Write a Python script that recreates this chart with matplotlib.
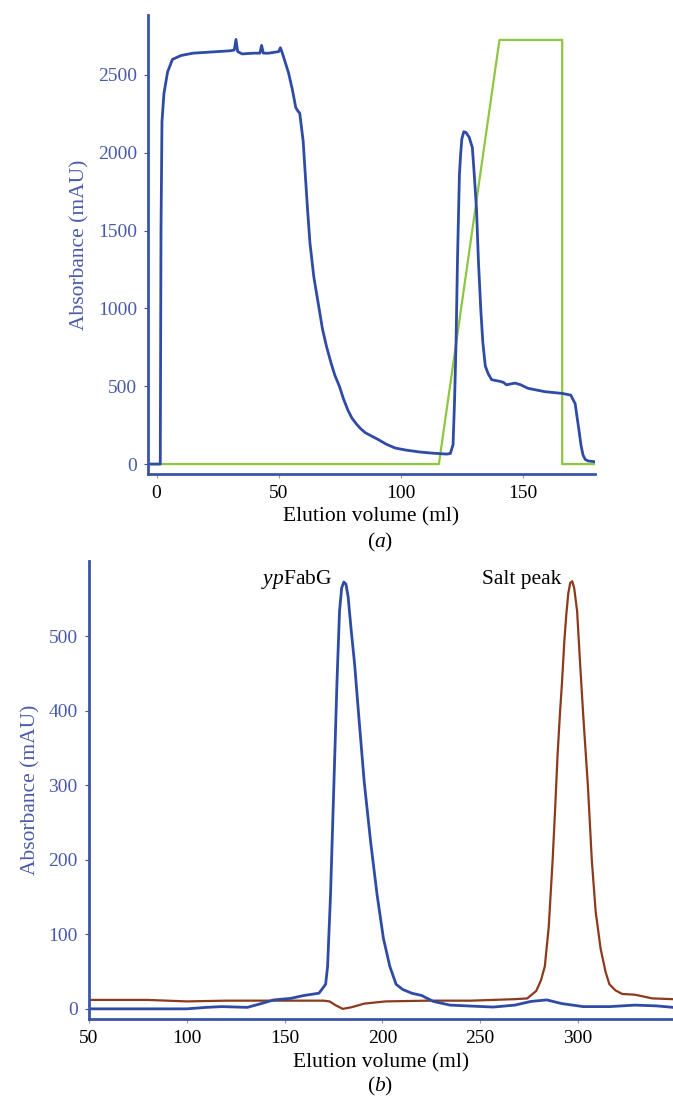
import matplotlib
matplotlib.use('Agg')
import matplotlib.pyplot as plt

plt.rcParams['font.family'] = ['Liberation Serif', 'DejaVu Serif']
plt.rcParams['mathtext.fontset'] = 'custom'
plt.rcParams['mathtext.rm'] = 'Liberation Serif'
plt.rcParams['mathtext.it'] = 'Liberation Serif:italic'

# Panel (a): affinity run, absorbance + gradient
a_vol = [-3.5, 1.5, 1.8, 2.2, 3, 4.5, 6.5, 10, 15, 20, 25, 30, 31.8, 32.5, 33.2, 35, 40, 42.3, 43, 43.7,
         46, 50, 50.7, 51.5, 54, 55.6, 57, 58, 58.6, 60, 61.8, 62.8, 64.4, 66, 67.9, 69.5, 71.4, 73, 74.9, 76.5,
         78.4, 80, 81.9, 83.5, 85.4, 88, 90.7, 94, 97.7, 102, 108, 113, 118.8, 120.3, 121.4, 122, 122.6, 123.2, 124, 124.5,
         125, 125.8, 126.7, 128, 129.3, 130, 131, 131.8, 132.8, 133.6, 134.6, 135.8, 137.2, 140.7, 142, 143.3, 145, 146.8, 149, 152,
         159, 166, 169.6, 171.4, 172.2, 173, 173.8, 174.6, 175.5, 176.7, 179.5]
a_abs = [0, 0, 1500, 2200, 2380, 2520, 2600, 2625, 2640, 2645, 2650, 2655, 2660, 2728, 2650, 2635, 2640, 2640, 2690, 2640,
         2640, 2650, 2675, 2640, 2515, 2405, 2290, 2265, 2256, 2077, 1638, 1420, 1200, 1050, 870, 760, 651, 570, 498, 420,
         344, 295, 256, 228, 202, 180, 158, 128, 103, 90, 77, 70, 64, 68, 125, 400, 760, 1300, 1857, 1990,
         2090, 2135, 2130, 2100, 2033, 1880, 1638, 1300, 980, 780, 630, 580, 542, 531, 525, 509, 515, 520, 510, 487,
         465, 454, 443, 388, 300, 213, 120, 59, 30, 20, 15]
grad_vol = [-3.5, 115.6, 140.4, 166.1, 166.1, 179.5]
grad_val = [0, 0, 2725, 2725, 0, 0]

# Panel (b): size exclusion run
b_vol = [50, 100, 110, 118, 131, 138, 144.5, 153, 160, 167.6, 171, 172, 173.5, 174.6, 175.7, 176.8, 178.1, 179.2, 180.3, 181.4,
         182.5, 184, 185.8, 188, 190.7, 194, 197.3, 200.5, 203.8, 207, 210.4, 215, 220, 226, 234.6, 256.6, 267.6, 276, 284, 291.8,
         302.7, 316, 329, 340, 348.5]
b_abs = [0, 0, 2, 3, 2, 7, 12, 14, 18, 21, 33, 57, 153, 248, 343, 439, 534, 565, 573, 570,
         553, 510, 463, 391, 305, 224, 153, 95, 57, 33, 26, 21, 18, 10, 5, 2.4, 5, 10, 12, 7,
         3, 3, 5, 4, 2]
salt_vol = [50, 60, 80, 100, 120, 140, 160, 170, 173, 176, 179.7, 184, 190.7, 201.6, 223.6, 245, 267.6, 274, 278.6, 281,
            283, 285, 287, 288.3, 289.5, 290.7, 291.8, 293, 294, 295, 296, 297, 298, 299.5, 301, 302.7, 305, 307, 309, 311.5,
            314, 316, 319, 322.5, 329, 338, 348.5]
salt_abs = [12, 12, 12, 10, 11, 11, 11, 11, 10, 5, 0, 2, 7, 10, 11, 11, 13, 14, 24, 38,
            57, 110, 200, 270, 340, 395, 439, 495, 530, 558, 572, 574, 565, 534, 465, 391, 300, 200, 130, 81,
            50, 33, 25, 20, 19, 14, 13]

BLUE = '#2f4ba5'
AXBLUE = '#3a55a8'
TXTBLUE = '#4a5aa8'
GREEN = '#8dc63f'
BROWN = '#8b3a1c'

fig = plt.figure(figsize=(6.73, 10.96), dpi=100)
ax1 = fig.add_axes([0.220, 0.5675, 0.664, 0.4188])
ax2 = fig.add_axes([0.132, 0.070, 0.868, 0.418])


def style(ax):
    for s in ['top', 'right']:
        ax.spines[s].set_visible(False)
    for s in ['left', 'bottom']:
        ax.spines[s].set_color(AXBLUE)
        ax.spines[s].set_linewidth(2.0)
    ax.tick_params(axis='both', length=3, width=0.8, labelsize=14)
    ax.tick_params(axis='y', color=AXBLUE, labelcolor=TXTBLUE, pad=5)
    ax.tick_params(axis='x', color='#999999', labelcolor='black', pad=5)
    ax.set_ylabel('Absorbance (mAU)', color=TXTBLUE, fontsize=15.5, labelpad=6)
    ax.set_xlabel('Elution volume (ml)', fontsize=15.5, labelpad=4)


ax1.plot(grad_vol, grad_val, color=GREEN, lw=1.6)
ax1.plot(a_vol, a_abs, color=BLUE, lw=2.0)
ax1.set_xlim(-3.5, 179.5)
ax1.set_ylim(-64, 2885)
ax1.set_xticks([0, 50, 100, 150])
ax1.set_yticks([0, 500, 1000, 1500, 2000, 2500])
style(ax1)

ax2.plot(salt_vol, salt_abs, color=BROWN, lw=1.6)
ax2.plot(b_vol, b_abs, color=BLUE, lw=2.0)
ax2.set_xlim(50, 348.5)
ax2.set_ylim(-14, 601)
ax2.set_xticks([50, 100, 150, 200, 250, 300])
ax2.set_yticks([0, 100, 200, 300, 400, 500])
style(ax2)
ax2.text(174.5, 576, r'$\mathit{yp}$FabG', ha='right', va='center', fontsize=15.5)
ax2.text(291.5, 576, 'Salt peak', ha='right', va='center', fontsize=15.5)

fig.text(0.565, 1 - 542 / 1096, r'($\mathit{a}$)', ha='center', va='center', fontsize=15.5)
fig.text(0.565, 1 - 1086 / 1096, r'($\mathit{b}$)', ha='center', va='center', fontsize=15.5)

plt.savefig('out.png', dpi=100)
